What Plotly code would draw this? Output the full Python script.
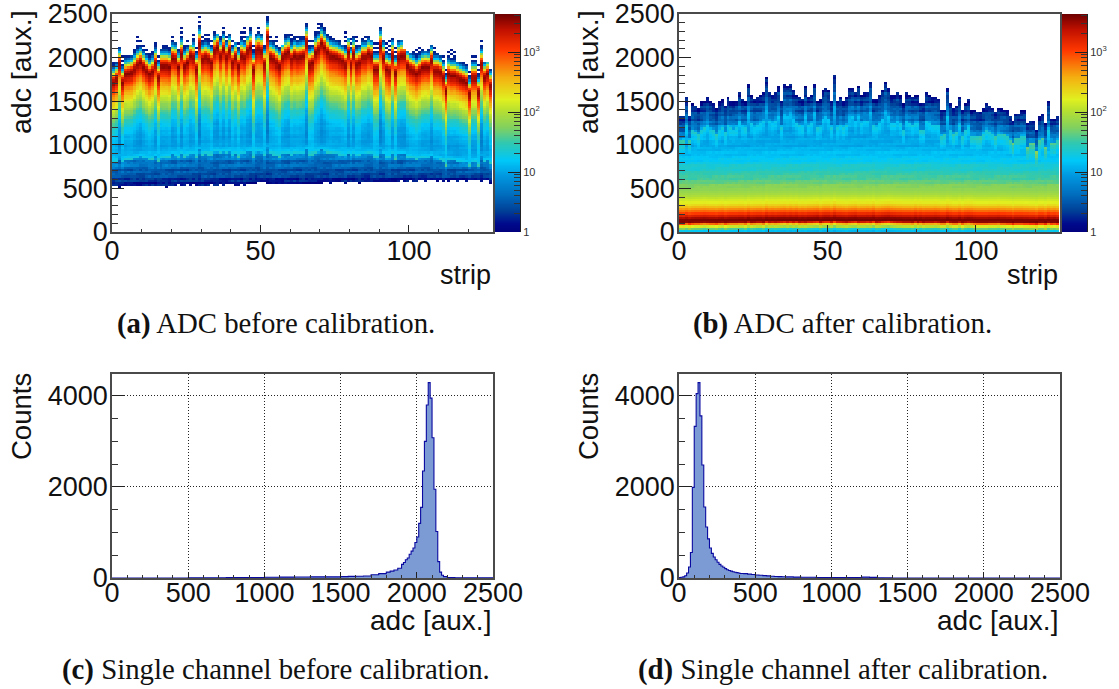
import numpy as np
import plotly.graph_objects as go

W, H = 1119, 689

# ---------- values ----------
strips = list(range(128))
adc_rows = [12.5 + 25 * i for i in range(100)]

# panel (a): ADC of the darkest bin, upper end and lower end of each strip
peak_a = [1717,1755,1927,1717,1812,1820,1832,1870,1919,1946,1896,1851,1812,1843,1935,1774,
          1908,1908,1908,1896,1996,1984,1889,2042,1908,1946,2022,2003,1870,2156,1984,2003,
          1984,1946,2080,2118,2022,2099,2003,2080,1946,2003,1908,2022,2003,2080,2118,1870,
          2080,2099,2080,1927,2240,2003,1984,1946,1908,2003,2042,2061,1984,2022,2003,2011,
          2022,2175,1927,1946,2061,2099,2164,2118,2061,2022,2011,2003,1984,1965,1927,2061,
          1927,2042,1927,1946,2003,2003,2042,2022,1870,1870,2137,2003,1870,1851,2022,1832,
          2003,2022,2022,1908,1870,1851,1820,1851,1889,1896,1889,1965,1851,1851,1832,1774,
          1621,1812,1793,1793,1774,1755,1736,1717,1583,1774,1774,1602,1927,1774,1812,1679]
top_a = [1946,1946,2118,2022,2022,2011,2022,2080,2225,2175,2137,2080,2042,2061,2156,2003,
         2099,2137,2137,2118,2233,2156,2099,2328,2137,2175,2137,2252,2118,2454,2233,2252,
         2271,2194,2290,2271,2233,2328,2233,2271,2194,2156,2156,2290,2328,2233,2328,2137,
         2252,2347,2252,2137,2469,2233,2175,2233,2118,2137,2271,2252,2252,2233,2240,2233,
         2233,2385,2175,2194,2290,2385,2393,2328,2271,2233,2213,2175,2194,2137,2278,2213,
         2213,2233,2233,2137,2213,2225,2225,2175,2156,2156,2347,2175,2156,2175,2202,2118,
         2175,2175,2080,2061,2042,2061,2099,2110,2099,2061,2080,2137,2118,2042,2022,2003,
         1851,2061,2080,2061,1946,1946,1927,1908,1831,2022,2022,1908,2175,1946,1927,1851]
bottom_a = [520,520,510,520,530,525,530,520,530,525,530,530,530,520,530,530,
            530,520,510,530,525,530,540,525,520,540,530,540,525,530,520,530,
            530,540,535,530,540,530,540,550,540,535,525,540,530,540,550,555,
            560,570,570,565,560,560,555,560,550,550,540,560,555,540,560,545,
            540,550,560,555,560,560,555,565,570,560,565,570,575,570,560,570,
            565,570,575,560,570,580,575,570,580,575,570,580,585,570,575,585,
            580,590,585,575,590,585,575,590,590,580,590,600,590,585,590,575,
            590,580,590,600,585,590,595,580,590,600,590,595,585,590,600,560]
# panel (a): log10(counts) against distance from the peak
above_offset_a = [0, 40, 70, 95, 120, 135, 160, 190, 400]
above_level_a = [3.55, 3.25, 2.75, 2.20, 1.60, 1.20, 0.70, 0.25, 0.15]
below_offset_a = [0, 50, 100, 150, 200, 300, 400, 500, 600, 700, 800, 950, 1050, 1110]
below_level_a = [3.55, 3.40, 3.16, 2.92, 2.70, 2.38, 2.05, 1.75, 1.45, 1.25, 1.08, 0.98, 1.08, 1.38]
low_position_a = [0.0, 0.3, 0.6, 0.85, 1.0]
low_level_a = [0.10, 0.42, 0.55, 0.72, 0.90]

# panel (b): upper end of each strip and position of the darkest band
top_b = [1324,1324,1534,1324,1457,1438,1400,1476,1495,1545,1476,1457,1400,1476,1507,1438,
         1534,1495,1484,1495,1583,1515,1495,1698,1553,1515,1545,1560,1591,1751,1591,1572,
         1591,1660,1495,1675,1667,1698,1610,1560,1534,1515,1660,1534,1553,1686,1495,1515,
         1610,1648,1610,1495,1782,1495,1545,1495,1534,1629,1648,1591,1659,1560,1598,1598,
         1724,1522,1514,1552,1610,1713,1648,1552,1552,1591,1552,1457,1583,1560,1533,1560,
         1552,1457,1457,1583,1560,1533,1533,1522,1380,1392,1648,1457,1400,1438,1545,1380,
         1457,1514,1380,1380,1361,1361,1419,1457,1438,1419,1361,1419,1407,1392,1380,1323,
         1266,1342,1342,1380,1380,1228,1266,1266,1151,1304,1342,1228,1476,1293,1285,1323]
peak_b = [118,116,122,116,120,122,122,124,126,124,122,122,120,124,126,120,
          124,126,126,126,128,128,124,132,126,128,130,130,126,136,130,132,
          130,132,134,136,132,136,132,136,130,132,130,134,134,136,138,130,
          136,138,138,132,142,134,134,132,130,134,136,138,132,134,134,136,
          134,140,130,132,136,138,140,136,134,132,132,130,130,130,128,134,
          128,132,128,130,130,130,132,130,126,126,134,128,124,124,130,122,
          128,130,128,124,122,122,122,122,124,124,124,126,122,122,120,120,
          114,120,120,120,118,118,116,116,112,120,120,114,124,118,120,116]
peak_offset_b = [-130, -100, -75, -50, -30, -15, 0, 30, 60, 100, 200, 300, 500, 700, 850, 1000, 1800]
peak_level_b = [1.05, 1.30, 1.90, 2.35, 3.00, 3.50, 3.62, 3.55, 3.30, 2.95, 2.28, 1.95, 1.55, 1.22, 1.05, 0.97, 0.90]
upper_position_b = [0.0, 0.12, 0.45, 0.8, 1.0]
upper_level_b = [1.05, 0.80, 0.52, 0.34, 0.12]
band_fraction_b = 0.80

# visual mottling of the low-count cells, estimated by eye
row_mottle = [0.06,-0.10,0.03,0.12,-0.05,-0.14,0.07,0.01,-0.08,0.10,-0.03,0.09,-0.13,0.05,-0.02,0.13,-0.11,
              0.02,0.08,-0.06,-0.01,0.11,-0.09,0.04,-0.12,0.06,0.00]
strip_mottle = [0.05,-0.08,0.12,-0.03,0.09,-0.12,0.04,0.14,-0.10,0.02,-0.05,0.10,-0.14,0.07,-0.01,-0.09,0.11,-0.06,0.03]

# panels (c) and (d): histogram bin edges and contents
hist_c_adc = [0,500,750,1000,1100,1200,1300,1400,1500,1550,1600,1650,1700,1750,1800,1825,1850,1875,1900,
              1912.5,1925,1937.5,1950,1962.5,1975,1987.5,2000,2012.5,2025,2037.5,2050,2062.5,2075,2087.5,
              2100,2112.5,2125,2137.5,2150,2162.5,2175,2200,2250,2500]
hist_c_counts = [0,5,12,15,20,22,25,25,30,35,40,45,70,95,130,150,175,215,300,
                 340,400,440,520,590,660,780,900,1200,1550,2350,3000,3800,4290,3950,
                 3080,1950,1020,360,130,60,30,12,5,0]
hist_d_adc = [0,12.5,25,37.5,50,62.5,75,87.5,100,112.5,125,137.5,150,162.5,175,187.5,200,212.5,225,237.5,
              250,262.5,275,287.5,300,312.5,325,337.5,350,362.5,375,387.5,400,425,450,475,500,525,550,575,
              600,625,650,675,700,750,800,850,900,950,1000,1050,1100,1150,1200,1250,1300,1350,1400,2500]
hist_d_counts = [10,15,25,50,110,240,560,1990,3330,4050,4290,3560,2480,1560,1120,860,660,540,460,400,
                 345,300,265,235,205,180,165,150,138,125,118,110,100,95,85,78,66,60,52,46,
                 40,34,30,27,24,20,17,15,12,10,8,8,10,12,20,14,5,2,0,0]

# ---------- heat map cells built from those values ----------
rows = np.array(adc_rows)
LOG_TOP = float(np.log10(4300))

def mottle(i, j, scale):
    return scale * (row_mottle[i % len(row_mottle)] + strip_mottle[(j * 7 + i * 3) % len(strip_mottle)])

def neighbours(j):
    part = peak_a[max(0, j - 4):j + 5]
    return sum(part) / len(part)

def column_a(j):
    p, t, b = peak_a[j], top_a[j], bottom_a[j]
    band = 0.35 * p + 190
    span = p - band
    stripe = (p - neighbours(j)) * 0.0012
    col = np.full(len(rows), np.nan)
    top_bin = int(t // 25)
    for i, a in enumerate(rows):
        if a < b or i > top_bin:
            continue
        if a >= p:
            if a - p > 205 and (top_bin - i) % 2 == 1:
                continue
            col[i] = np.interp(a - p, above_offset_a, above_level_a)
        elif a >= band:
            depth = (p - a) * 1110 / span
            col[i] = (np.interp(depth, below_offset_a, below_level_a)
                      + mottle(i, j, 0.22) - stripe * min(1.0, depth / 250))
        else:
            w = (a - b) / (band - b)
            col[i] = np.interp(w, low_position_a, low_level_a) + mottle(i, j, 0.8)
    return col

def column_b(j):
    p, t = peak_b[j], top_b[j]
    band = band_fraction_b * t
    col = np.full(len(rows), np.nan)
    top_bin = int(t // 25)
    boost = 0.25 + (1300 - band) / 800
    for i, a in enumerate(rows):
        if i > top_bin:
            continue
        if a <= band:
            v = np.interp(a - p, peak_offset_b, peak_level_b)
            v += max(0.0, boost * (1 - (band - a) / 170))
            if a > 500:
                v += mottle(i, j, 0.3)
            col[i] = v
        else:
            w = (a - band) / (t - band)
            col[i] = np.interp(w, upper_position_b, upper_level_b) + mottle(i, j, 0.8)
    return col

z_a = np.clip(np.array([column_a(j) for j in strips]).T, 0, LOG_TOP)
z_b = np.clip(np.array([column_b(j) for j in strips]).T, 0, LOG_TOP)

# ---------- styling ----------
FONT = "Liberation Sans"
SERIF = "Liberation Serif"
INK = "#111111"
FRAME = "#4a4a4a"
SCALE = [[0.0, "#00007c"], [0.04, "#000a8c"], [0.10, "#004098"], [0.18, "#0070c0"], [0.26, "#0098e0"],
         [0.33, "#00c8f8"], [0.41, "#30c8b0"], [0.48, "#80d060"], [0.56, "#b8e030"], [0.61, "#e0f020"],
         [0.71, "#f4b010"], [0.835, "#ff3800"], [0.93, "#c01000"], [1.0, "#700000"]]

def px(x):
    return x / W

def py(y):
    return 1 - y / H

def dom_x(a, b):
    return [px(a), px(b)]

def dom_y(top, bottom):
    return [py(bottom), py(top)]

def axis(domain, anchor, rng, major, minor, major_len, minor_len, grid=False, **kw):
    return dict(domain=domain, anchor=anchor, range=rng, tickmode="array", tickvals=major,
                ticks="inside", ticklen=major_len, tickwidth=1, tickcolor="#222222",
                minor=dict(tickmode="array", tickvals=minor, ticks="inside", ticklen=minor_len,
                           tickcolor="#333333", tickwidth=1, showgrid=False),
                showline=True, linecolor=FRAME, linewidth=1.5, mirror=True, zeroline=False,
                showgrid=grid, gridcolor="#222222", griddash="1px,2px", gridwidth=1,
                ticklabeloverflow="allow",
                tickfont=dict(family=FONT, size=27, color=INK), **kw)

LEFTS = [(112, 493), (679, 1060)]
TOP_ROW = (14, 232)
BOTTOM_ROW = (374, 578)
strip_major = [0, 50, 100]
strip_minor = [s for s in range(0, 129, 10) if s not in strip_major]
adc_major = [0, 500, 1000, 1500, 2000, 2500]
adc_fine = [a for a in range(0, 2501, 100) if a not in adc_major]
count_major = [0, 2000, 4000]
count_minor = [500, 1000, 1500, 2500, 3000, 3500]
bar_major = [0, 1, 2, 3]
bar_text = ["1", "10", "10<sup>2</sup>", "10<sup>3</sup>"]
bar_minor = [np.log10(m * d) for d in (1, 10, 100, 1000) for m in range(2, 10) if m * d < 4300]
bar_levels = [LOG_TOP * i / 218 for i in range(219)]

fig = go.Figure()
layout = dict(width=W, height=H, margin=dict(l=0, r=0, t=0, b=0, autoexpand=False), paper_bgcolor="white",
              plot_bgcolor="white", showlegend=False)

for n, (z, (x0, x1)) in enumerate(zip((z_a, z_b), LEFTS)):
    xn, yn = f"x{n + 1}", f"y{n + 1}"
    fig.add_trace(go.Heatmap(x=[s + 0.5 for s in strips], y=adc_rows, z=z, colorscale=SCALE, zmin=0,
                             zmax=LOG_TOP, showscale=False, hoverongaps=False, xaxis=xn, yaxis=yn))
    layout[f"xaxis{n + 1}"] = axis(dom_x(x0, x1), yn, [0, 128.3], strip_major, strip_minor, 7, 3.5,
                                   ticklabelstandoff=-6)
    layout[f"yaxis{n + 1}"] = axis(dom_y(*TOP_ROW), xn, [0, 2500], adc_major, adc_fine, 12, 6,
                                   ticklabelstandoff=-3)

    xb, yb = f"x{n + 5}", f"y{n + 5}"
    fig.add_trace(go.Heatmap(x=[0, 1], y=bar_levels, z=[[v, v] for v in bar_levels], colorscale=SCALE,
                             zmin=0, zmax=LOG_TOP, showscale=False, hoverinfo="skip", xaxis=xb, yaxis=yb))
    layout[f"xaxis{n + 5}"] = dict(domain=dom_x(x1 + 2, x1 + 27), anchor=yb, range=[0, 1], visible=False)
    layout[f"yaxis{n + 5}"] = dict(domain=dom_y(*TOP_ROW), anchor=xb, side="right", range=[0, LOG_TOP],
                                   tickmode="array", tickvals=bar_major, ticktext=bar_text,
                                   ticks="inside", ticklen=12, tickcolor="#222222",
                                   minor=dict(tickmode="array", tickvals=bar_minor, ticks="inside",
                                              ticklen=6, tickcolor="#333333"),
                                   showline=True, linecolor="#222222", linewidth=1, showgrid=False,
                                   zeroline=False, ticklabeloverflow="allow",
                                   tickfont=dict(family=FONT, size=11, color="#333333"))

for n, (xs, ys, (x0, x1)) in enumerate(zip((hist_c_adc, hist_d_adc), (hist_c_counts, hist_d_counts), LEFTS)):
    xn, yn = f"x{n + 3}", f"y{n + 3}"
    fig.add_trace(go.Scatter(x=xs, y=ys, mode="lines", line=dict(color="#0a0aa0", width=1.1, shape="hv"),
                             fill="tozeroy", fillcolor="#7c9bd4", xaxis=xn, yaxis=yn))
    layout[f"xaxis{n + 3}"] = axis(dom_x(x0, x1), yn, [0, 2500], adc_major, adc_fine, 6, 3, grid=True,
                                   ticklabelstandoff=-10, layer="above traces")
    layout[f"yaxis{n + 3}"] = axis(dom_y(*BOTTOM_ROW), xn, [0, 4480], count_major, count_minor, 12, 6, grid=True,
                                   ticklabelstandoff=-3)

def label(text, x, y, size=27, family=FONT, xanchor="center", yanchor="middle", angle=0):
    return dict(text=text, x=px(x), y=py(y), xref="paper", yref="paper", showarrow=False, textangle=angle,
                xanchor=xanchor, yanchor=yanchor, font=dict(family=family, size=size, color=INK))

layout["annotations"] = [
    label("adc [aux.]", 21, 72, size=28.5, angle=-90),
    label("adc [aux.]", 588, 72, size=28.5, angle=-90),
    label("Counts", 21, 417, size=27.5, angle=-90),
    label("Counts", 588, 417, size=27.5, angle=-90),
    label("strip", 493, 275, xanchor="right"),
    label("strip", 1060, 275, xanchor="right"),
    label("adc [aux.]", 493, 620, size=28, xanchor="right"),
    label("adc [aux.]", 1060, 620, size=28, xanchor="right"),
    label("<b>(a)</b> ADC before calibration.", 276, 323, size=28.8, family=SERIF),
    label("<b>(b)</b> ADC after calibration.", 842, 323, size=28.8, family=SERIF),
    label("<b>(c)</b> Single channel before calibration.", 276, 669, size=28.8, family=SERIF),
    label("<b>(d)</b> Single channel after calibration.", 843, 669, size=28.8, family=SERIF),
]
fig.update_layout(**layout)
fig.write_html("out.html", post_script="document.body.style.margin='0';", config=dict(displayModeBar=False))
